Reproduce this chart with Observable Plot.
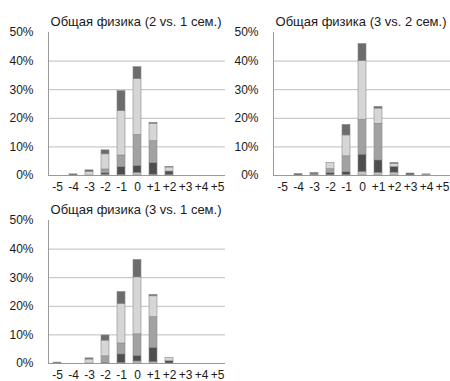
<!DOCTYPE html>
<html>
<head>
<meta charset="utf-8">
<script src="https://cdn.jsdelivr.net/npm/d3@7"></script>
<script src="https://cdn.jsdelivr.net/npm/@observablehq/plot@0.6"></script>
<style>
  html, body { margin: 0; padding: 0; background: #fff; width: 450px; height: 381px; overflow: hidden; }
  #wrap { position: relative; width: 450px; height: 381px; font-family: "Liberation Sans", Arial, sans-serif; }
  .panel { position: absolute; }
  .panel svg { overflow: visible; }
</style>
</head>
<body>
<div id="wrap"></div>
<script>
// Categories (change of grade) and tick labels
const categories = ["-5", "-4", "-3", "-2", "-1", "0", "+1", "+2", "+3", "+4", "+5"];
const yTicks = [0, 10, 20, 30, 40, 50];
const seriesNames = ["A", "B", "C", "D", "E"];
const seriesColors = ["#c4c4c4", "#4e4e4e", "#a2a2a2", "#d6d6d6", "#6c6c6c"];

const titles = [
  "Общая физика (2 vs. 1 сем.)",
  "Общая физика (3 vs. 2 сем.)",
  "Общая физика (3 vs. 1 сем.)"
];

// Panel 1: 2 vs. 1 semester, values in %, one row per series (A bottom … E top)
const panel1 = [
  [0, 0,   0,   0.3, 0.2,  0.9, 0.3, 0.2, 0, 0, 0],
  [0, 0,   0,   0.6, 2.8,  2.5, 4.1, 1.2, 0, 0, 0],
  [0, 0,   0,   1.2, 4.0, 10.8, 7.6, 0,   0, 0, 0],
  [0, 0,   1.3, 5.3, 15.5, 19.5, 6.1, 1.4, 0, 0, 0],
  [0, 0.4, 0.5, 1.4, 7.0,  4.2, 0.3, 0.2, 0, 0, 0]
];
// Panel 2: 3 vs. 2 semester
const panel2 = [
  [0, 0,   0,   0.2, 0.2,  1.2, 0.9,  1.0, 0,   0,   0],
  [0, 0,   0,   0.7, 1.0,  6.1, 4.4,  2.0, 0,   0,   0],
  [0, 0,   0.4, 1.3, 5.5, 12.2, 12.8, 0,   0,   0.4, 0],
  [0, 0,   0,   2.2, 7.3, 20.5, 5.3,  1.1, 0,   0,   0],
  [0, 0.5, 0.5, 0,   3.7,  6.0, 0.6,  0.3, 0.7, 0,   0]
];
// Panel 3: 3 vs. 1 semester
const panel3 = [
  [0,   0, 0,   0.2, 0.2,  0.7, 0.5,  0,   0, 0, 0],
  [0,   0, 0,   0,   3.0,  2.0, 5.0,  0.8, 0, 0, 0],
  [0,   0, 0,   2.3, 3.8,  7.5, 10.7, 0,   0, 0, 0],
  [0,   0, 1.4, 5.5, 13.8, 19.9, 7.3, 1.2, 0, 0, 0],
  [0.3, 0, 0.4, 1.8, 4.2,  6.1, 0.5,  0,   0, 0, 0]
];

function toRows(panel) {
  const rows = [];
  seriesNames.forEach((s, si) => {
    categories.forEach((c, ci) => {
      rows.push({cat: c, series: s, v: panel[si][ci]});
    });
  });
  return rows;
}

function makePanel(panel, title) {
  const rows = toRows(panel).filter(d => d.v > 0);
  const plot = Plot.plot({
    width: 225,
    height: 200,
    marginLeft: 48,
    marginRight: 0,
    marginTop: 32,
    marginBottom: 25,
    style: {fontFamily: "'Liberation Sans', Arial, sans-serif", fontSize: "12px", color: "#1a1a1a", background: "transparent"},
    x: {type: "band", domain: categories, paddingInner: 0.53, paddingOuter: 0.265, tickSize: 0, tickPadding: 7, label: null},
    y: {domain: [0, 50], ticks: yTicks, tickFormat: d => d + "%", tickSize: 0, tickPadding: 15, label: null},
    color: {domain: seriesNames, range: seriesColors},
    marks: [
      Plot.ruleY(yTicks.filter(t => t > 0 && t < 50), {stroke: "#bdbdbd", strokeWidth: 1}),
      Plot.ruleY([0], {stroke: "#9a9a9a", strokeWidth: 1}),
      Plot.barY(rows, {x: "cat", y: "v", fill: "series", stroke: "#8a8a8a", strokeWidth: 0.6}),
      Plot.text([title], {frameAnchor: "top", dy: -16, dx: -1, fontSize: 13, fill: "#1a1a1a"})
    ]
  });
  // left value-axis line from 0% to 50%
  const y = plot.scale("y");
  d3.select(plot).append("line")
    .attr("x1", 48.5).attr("x2", 48.5)
    .attr("y1", y.apply(0)).attr("y2", y.apply(50))
    .attr("stroke", "#9a9a9a");
  return plot;
}

const wrap = document.getElementById("wrap");
const positions = [[0, 0], [225, 0], [0, 188]];
[panel1, panel2, panel3].forEach((p, i) => {
  const div = document.createElement("div");
  div.className = "panel";
  div.style.left = positions[i][0] + "px";
  div.style.top = positions[i][1] + "px";
  div.appendChild(makePanel(p, titles[i]));
  wrap.appendChild(div);
});
</script>
</body>
</html>
